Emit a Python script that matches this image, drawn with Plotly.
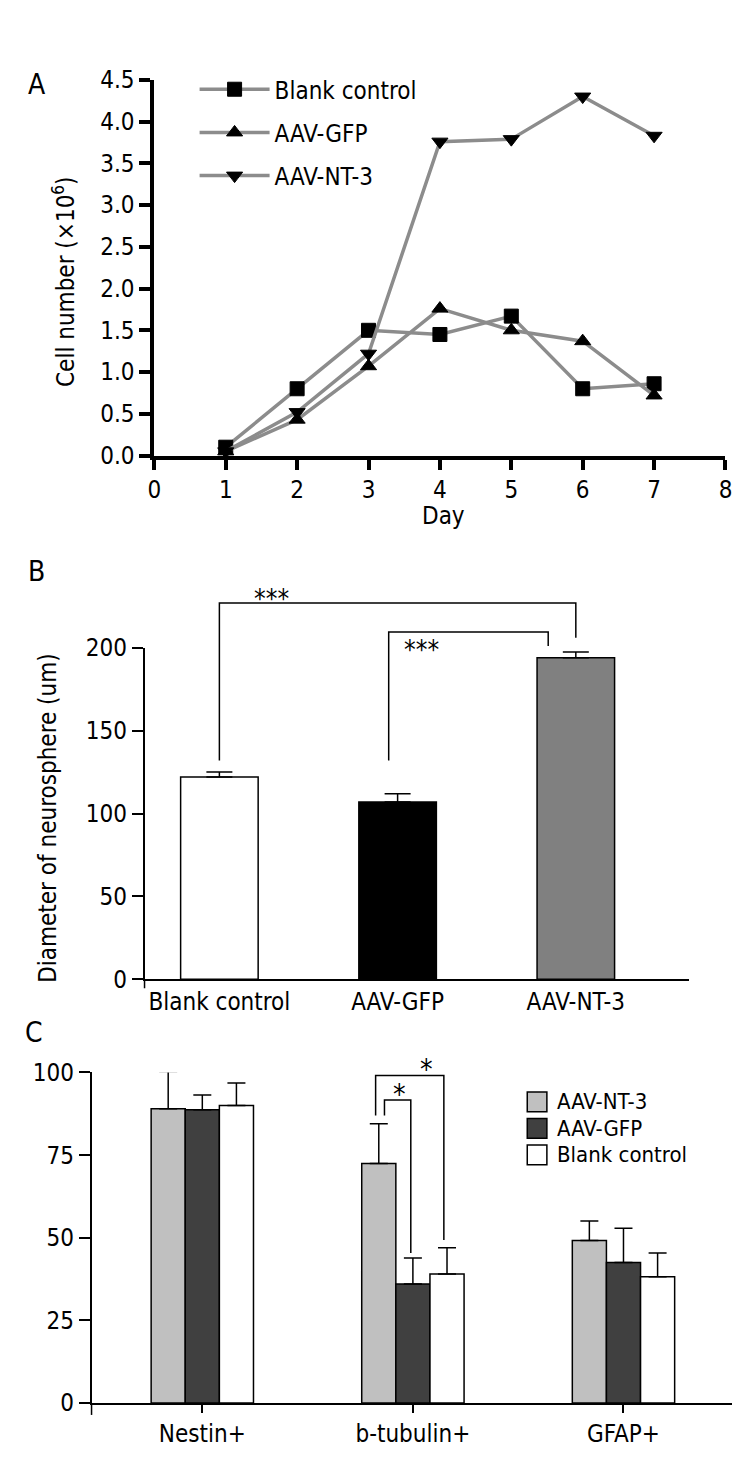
import plotly.graph_objects as go

W, H = 750, 1462
FONT = "DejaVu Sans Condensed, Liberation Sans Narrow, sans-serif"
FS = 24

# ---------------- Panel A data ----------------
days = [1, 2, 3, 4, 5, 6, 7]
blank_a = [0.10, 0.80, 1.50, 1.45, 1.67, 0.80, 0.86]
gfp_a = [0.05, 0.43, 1.07, 1.76, 1.50, 1.37, 0.72]
nt3_a = [0.05, 0.52, 1.22, 3.76, 3.79, 4.30, 3.83]
a_names = ["Blank control", "AAV-GFP", "AAV-NT-3"]
a_symbols = ["square", "triangle-up", "triangle-down"]
a_yticks = [0.0, 0.5, 1.0, 1.5, 2.0, 2.5, 3.0, 3.5, 4.0, 4.5]
a_xticks = [0, 1, 2, 3, 4, 5, 6, 7, 8]

# ---------------- Panel B data ----------------
b_groups = ["Blank control", "AAV-GFP", "AAV-NT-3"]
b_values = [122, 107, 194]
b_errors = [3, 5, 3.5]
b_colors = ["white", "black", "#808080"]
b_yticks = [0, 50, 100, 150, 200]

# ---------------- Panel C data ----------------
c_groups = ["Nestin+", "b-tubulin+", "GFAP+"]
c_series = ["AAV-NT-3", "AAV-GFP", "Blank control"]
c_nt3 = [89.0, 72.5, 49.2]
c_nt3_err = [11.3, 12.0, 5.9]
c_gfp = [88.7, 36.0, 42.5]
c_gfp_err = [4.5, 7.9, 10.4]
c_blank = [90.0, 39.0, 38.2]
c_blank_err = [6.8, 8.0, 7.2]
c_colors = ["#c0c0c0", "#404040", "white"]
c_yticks = [0, 25, 50, 75, 100]


def px_x(x):
    return x / W


def px_y(y):
    return 1 - y / H


def txt(size=FS):
    return dict(family=FONT, size=size, color="black")


fig = go.Figure()

# ---- Panel A traces ----
for name, sym, vals in zip(a_names, a_symbols, [blank_a, gfp_a, nt3_a]):
    fig.add_trace(go.Scatter(
        x=days, y=vals, name=name, mode="lines+markers",
        line=dict(color="#8c8c8c", width=3.5),
        marker=dict(symbol=sym, size=14, color="black",
                    line=dict(color="black", width=1)),
        cliponaxis=False, xaxis="x", yaxis="y", legend="legend",
        legendgroup=name,
    ))

# ---- Panel B bars ----
fig.add_trace(go.Bar(
    x=b_groups, y=b_values, width=0.435,
    marker=dict(color=b_colors, line=dict(color="black", width=1.5)),
    error_y=dict(type="data", array=b_errors, arrayminus=[0] * len(b_errors),
                 color="black", thickness=1.5, width=13),
    xaxis="x2", yaxis="y2", showlegend=False,
))

# ---- Panel C bars ----
c_vals = [c_nt3, c_gfp, c_blank]
c_errs = [c_nt3_err, c_gfp_err, c_blank_err]
bw = 0.162
for i, (name, vals, errs, col) in enumerate(zip(c_series, c_vals, c_errs, c_colors)):
    fig.add_trace(go.Bar(
        x=c_groups, y=vals, name=name, width=bw, offset=-1.5 * bw + i * bw,
        marker=dict(color=col, line=dict(color="black", width=1.5)),
        error_y=dict(type="data", array=errs, arrayminus=[0] * len(errs),
                     color="black", thickness=1.5, width=9),
        xaxis="x3", yaxis="y3", showlegend=False,
    ))

tickfont = txt()

# Axis domains (pixel based)
a_dom_x = [px_x(142), px_x(724)]
a_dom_y = [px_y(442), px_y(59)]
b_dom_x = [px_x(132), px_x(687)]
b_dom_y = [px_y(976), px_y(638)]
c_dom_x = [px_x(78), px_x(731)]
c_dom_y = [px_y(1408), px_y(1071)]

fig.update_layout(
    width=W, height=H, margin=dict(l=0, r=0, t=0, b=0),
    paper_bgcolor="white", plot_bgcolor="white",
    font=txt(),
    barmode="overlay",
    xaxis=dict(domain=a_dom_x, anchor="y", range=[0, 8], tickvals=a_xticks,
               showline=True, linewidth=4, linecolor="black",
               ticks="outside", ticklen=10, tickwidth=4, tickcolor="black",
               showgrid=False, zeroline=False, tickfont=tickfont),
    yaxis=dict(domain=a_dom_y, anchor="x", range=[0, 4.5], tickvals=a_yticks,
               tickformat=".1f",
               showline=True, linewidth=4, linecolor="black",
               ticks="outside", ticklen=11, tickwidth=4, tickcolor="black",
               showgrid=False, zeroline=False, tickfont=tickfont),
    xaxis2=dict(domain=b_dom_x, anchor="y2", type="category",
                range=[-0.42, 2.636],
                showline=True, linewidth=1.5, linecolor="black",
                ticks="", showgrid=False, zeroline=False, tickfont=tickfont),
    yaxis2=dict(domain=b_dom_y, anchor="x2", range=[0, 200], tickvals=b_yticks,
                showline=True, linewidth=1.5, linecolor="black",
                ticks="outside", ticklen=11, tickwidth=1.5, tickcolor="black",
                showgrid=False, zeroline=False, tickfont=tickfont),
    xaxis3=dict(domain=c_dom_x, anchor="y3", type="category",
                range=[-0.526, 2.517],
                showline=True, linewidth=1.5, linecolor="black",
                ticks="outside", ticklen=8, tickwidth=1.5, tickcolor="black",
                showgrid=False, zeroline=False, tickfont=tickfont),
    yaxis3=dict(domain=c_dom_y, anchor="x3", range=[0, 100], tickvals=c_yticks,
                showline=True, linewidth=1.5, linecolor="black",
                ticks="outside", ticklen=11, tickwidth=1.5, tickcolor="black",
                showgrid=False, zeroline=False, tickfont=tickfont),
    legend=dict(x=px_x(183), y=px_y(46), xanchor="left", yanchor="top",
                font=txt(),
                bgcolor="rgba(0,0,0,0)", borderwidth=0,
                traceorder="grouped", tracegroupgap=9, itemwidth=70),
    showlegend=True,
)

shapes = []
annotations = []

# Panel letters
for letter, x, y in [("A", 22, 64), ("B", 22, 560), ("C", 19, 1030)]:
    annotations.append(dict(text=letter, x=px_x(x), y=px_y(y), xref="paper", yref="paper",
                            showarrow=False, xanchor="center", yanchor="middle",
                            font=txt(28)))

# Axis titles
annotations.append(dict(text="Cell number (×10<sup>6</sup>)", x=px_x(50), y=px_y(265),
                        xref="paper", yref="paper", textangle=-90, showarrow=False,
                        xanchor="center", yanchor="middle", font=txt()))
annotations.append(dict(text="Day", x=px_x(437), y=px_y(504), xref="paper", yref="paper",
                        showarrow=False, xanchor="center", yanchor="middle",
                        font=txt()))
annotations.append(dict(text="Diameter of neurosphere (um)", x=px_x(34), y=px_y(811),
                        xref="paper", yref="paper", textangle=-90, showarrow=False,
                        xanchor="center", yanchor="middle", font=txt()))

# Panel B: y-axis stub below zero
shapes.append(dict(type="line", xref="x2 domain", yref="y2 domain", x0=0, x1=0,
                   y0=-0.027, y1=0, line=dict(color="black", width=1.5)))
# Panel C: y-axis stub below zero
shapes.append(dict(type="line", xref="x3 domain", yref="y3 domain", x0=0, x1=0,
                   y0=-0.036, y1=0, line=dict(color="black", width=1.5)))


def bracket(xref, yref, xl, xr, yl, yr, ytop):
    pts = f"M {xl} {yl} L {xl} {ytop} L {xr} {ytop} L {xr} {yr}"
    return dict(type="path", xref=xref, yref=yref, path=pts,
                line=dict(color="black", width=1.5))


# Panel B brackets (y in domain fraction of 0-200 range)
bmax = 200.0
shapes.append(bracket("x2", "y2 domain", 0, 2, 132 / bmax, 206 / bmax, 227 / bmax))
shapes.append(bracket("x2", "y2 domain", 0.95, 1.845, 132 / bmax, 201 / bmax, 209.5 / bmax))
annotations.append(dict(text="***", x=0.29, y=229.5 / bmax, xref="x2", yref="y2 domain",
                        showarrow=False, xanchor="center", yanchor="middle", font=txt(26)))
annotations.append(dict(text="***", x=1.132, y=198.5 / bmax, xref="x2", yref="y2 domain",
                        showarrow=False, xanchor="center", yanchor="middle", font=txt(26)))

# Panel C brackets
cmax = 100.0
shapes.append(bracket("x3", "y3 domain", 0.865, 0.99, 87 / cmax, 45.4 / cmax, 91.7 / cmax))
shapes.append(bracket("x3", "y3 domain", 0.823, 1.147, 87 / cmax, 49.3 / cmax, 99.1 / cmax))
annotations.append(dict(text="*", x=0.935, y=93.2 / cmax, xref="x3", yref="y3 domain",
                        showarrow=False, xanchor="center", yanchor="middle", font=txt(28)))
annotations.append(dict(text="*", x=1.065, y=101.0 / cmax, xref="x3", yref="y3 domain",
                        showarrow=False, xanchor="center", yanchor="middle", font=txt(28)))

# Panel C legend (drawn as boxes + text)
for i, (name, col) in enumerate(zip(c_series, c_colors)):
    yc = 1101 + i * 27
    shapes.append(dict(type="rect", xref="paper", yref="paper",
                       x0=px_x(522), x1=px_x(542), y0=px_y(yc + 10), y1=px_y(yc - 10),
                       fillcolor=col, line=dict(color="black", width=1.5)))
    annotations.append(dict(text=name, x=px_x(550), y=px_y(yc), xref="paper", yref="paper",
                            showarrow=False, xanchor="left", yanchor="middle",
                            font=txt(22)))

fig.update_layout(shapes=shapes, annotations=annotations)

fig.write_html("out.html")
